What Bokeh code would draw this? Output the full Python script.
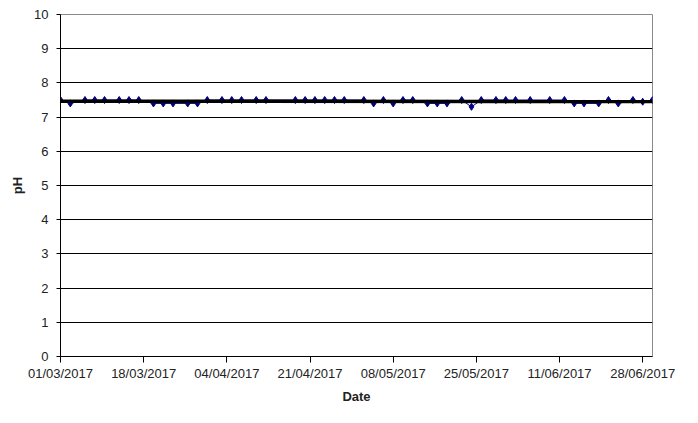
from datetime import datetime
from bokeh.plotting import figure
from bokeh.models import ColumnDataSource, Range1d, FixedTicker, DatetimeTickFormatter
from bokeh.embed import file_html
from bokeh.resources import INLINE

# ---- data ----
sample_dates = [
    "2017-03-01", "2017-03-03", "2017-03-06", "2017-03-08", "2017-03-10",
    "2017-03-13", "2017-03-15", "2017-03-17", "2017-03-20", "2017-03-22",
    "2017-03-24", "2017-03-27", "2017-03-29", "2017-03-31", "2017-04-03",
    "2017-04-05", "2017-04-07", "2017-04-10", "2017-04-12", "2017-04-18",
    "2017-04-20", "2017-04-22", "2017-04-24", "2017-04-26", "2017-04-28",
    "2017-05-02", "2017-05-04", "2017-05-06", "2017-05-08", "2017-05-10",
    "2017-05-12", "2017-05-15", "2017-05-17", "2017-05-19", "2017-05-22",
    "2017-05-24", "2017-05-26", "2017-05-29", "2017-05-31", "2017-06-02",
    "2017-06-05", "2017-06-09", "2017-06-12", "2017-06-14", "2017-06-16",
    "2017-06-19", "2017-06-21", "2017-06-23", "2017-06-26", "2017-06-28",
    "2017-06-30",
]
ph_values = [
    7.5, 7.4, 7.5, 7.5, 7.5,
    7.5, 7.5, 7.5, 7.4, 7.4,
    7.4, 7.4, 7.4, 7.5, 7.5,
    7.5, 7.5, 7.5, 7.5, 7.5,
    7.5, 7.5, 7.5, 7.5, 7.5,
    7.5, 7.4, 7.5, 7.4, 7.5,
    7.5, 7.4, 7.4, 7.4, 7.5,
    7.3, 7.5, 7.5, 7.5, 7.5,
    7.5, 7.5, 7.5, 7.4, 7.4,
    7.4, 7.5, 7.4, 7.5, 7.45,
    7.5,
]
trend_dates = ["2017-03-01", "2017-06-30"]
trend_ph = [7.465, 7.455]

x_tick_labels = ["01/03/2017", "18/03/2017", "04/04/2017", "21/04/2017",
                 "08/05/2017", "25/05/2017", "11/06/2017", "28/06/2017"]
y_ticks = [0, 1, 2, 3, 4, 5, 6, 7, 8, 9, 10]

to_dt = lambda s: datetime.strptime(s, "%Y-%m-%d")
dates = [to_dt(d) for d in sample_dates]
tdates = [to_dt(d) for d in trend_dates]
tick_dts = [datetime.strptime(t, "%d/%m/%Y") for t in x_tick_labels]
epoch = datetime(1970, 1, 1)
tick_ms = [(t - epoch).total_seconds() * 1000 for t in tick_dts]

src = ColumnDataSource(dict(date=dates, ph=ph_values))

FONT = "Liberation Sans"

p = figure(width=682, height=407, x_axis_type="datetime",
           output_backend="svg", toolbar_location=None,
           min_border_left=60, min_border_right=30,
           min_border_top=14, min_border_bottom=51,
           x_range=Range1d(datetime(2017, 3, 1), datetime(2017, 6, 30)),
           y_range=Range1d(0, 10))

p.background_fill_color = "white"
p.border_fill_color = "white"
p.outline_line_color = "#8a8a8a"
p.outline_line_width = 1

p.xgrid.grid_line_color = None
p.ygrid.grid_line_color = "black"
p.ygrid.grid_line_width = 1
p.ygrid.ticker = FixedTicker(ticks=y_ticks)

p.line("date", "ph", source=src, line_color="#000080", line_width=1)
p.scatter("date", "ph", source=src, marker="diamond", size=7,
          fill_color="#000080", line_color="#000080")
p.line(tdates, trend_ph, line_color="black", line_width=3.5)

xa = p.xaxis[0]
xa.ticker = FixedTicker(ticks=tick_ms)
xa.formatter = DatetimeTickFormatter(days="%d/%m/%Y", months="%d/%m/%Y",
                                     years="%d/%m/%Y")
xa.axis_label = "Date"
xa.major_tick_out = 6
xa.major_tick_in = 0
xa.minor_tick_line_color = None
xa.major_label_standoff = 3
xa.axis_label_standoff = 5
xa.axis_line_color = "black"
xa.major_tick_line_color = "black"

ya = p.yaxis[0]
ya.ticker = FixedTicker(ticks=y_ticks)
ya.axis_label = "pH"
ya.major_tick_out = 4
ya.major_tick_in = 0
ya.minor_tick_line_color = None
ya.major_label_standoff = 8
ya.axis_label_standoff = 6
ya.axis_line_color = "black"
ya.major_tick_line_color = "black"

for ax in (xa, ya):
    ax.major_label_text_font = FONT
    ax.major_label_text_font_size = "13px"
    ax.major_label_text_color = "#222222"
    ax.axis_label_text_font = FONT
    ax.axis_label_text_font_size = "13px"
    ax.axis_label_text_font_style = "bold"
    ax.axis_label_text_color = "#222222"

open("out.html", "w").write(file_html(p, INLINE))
